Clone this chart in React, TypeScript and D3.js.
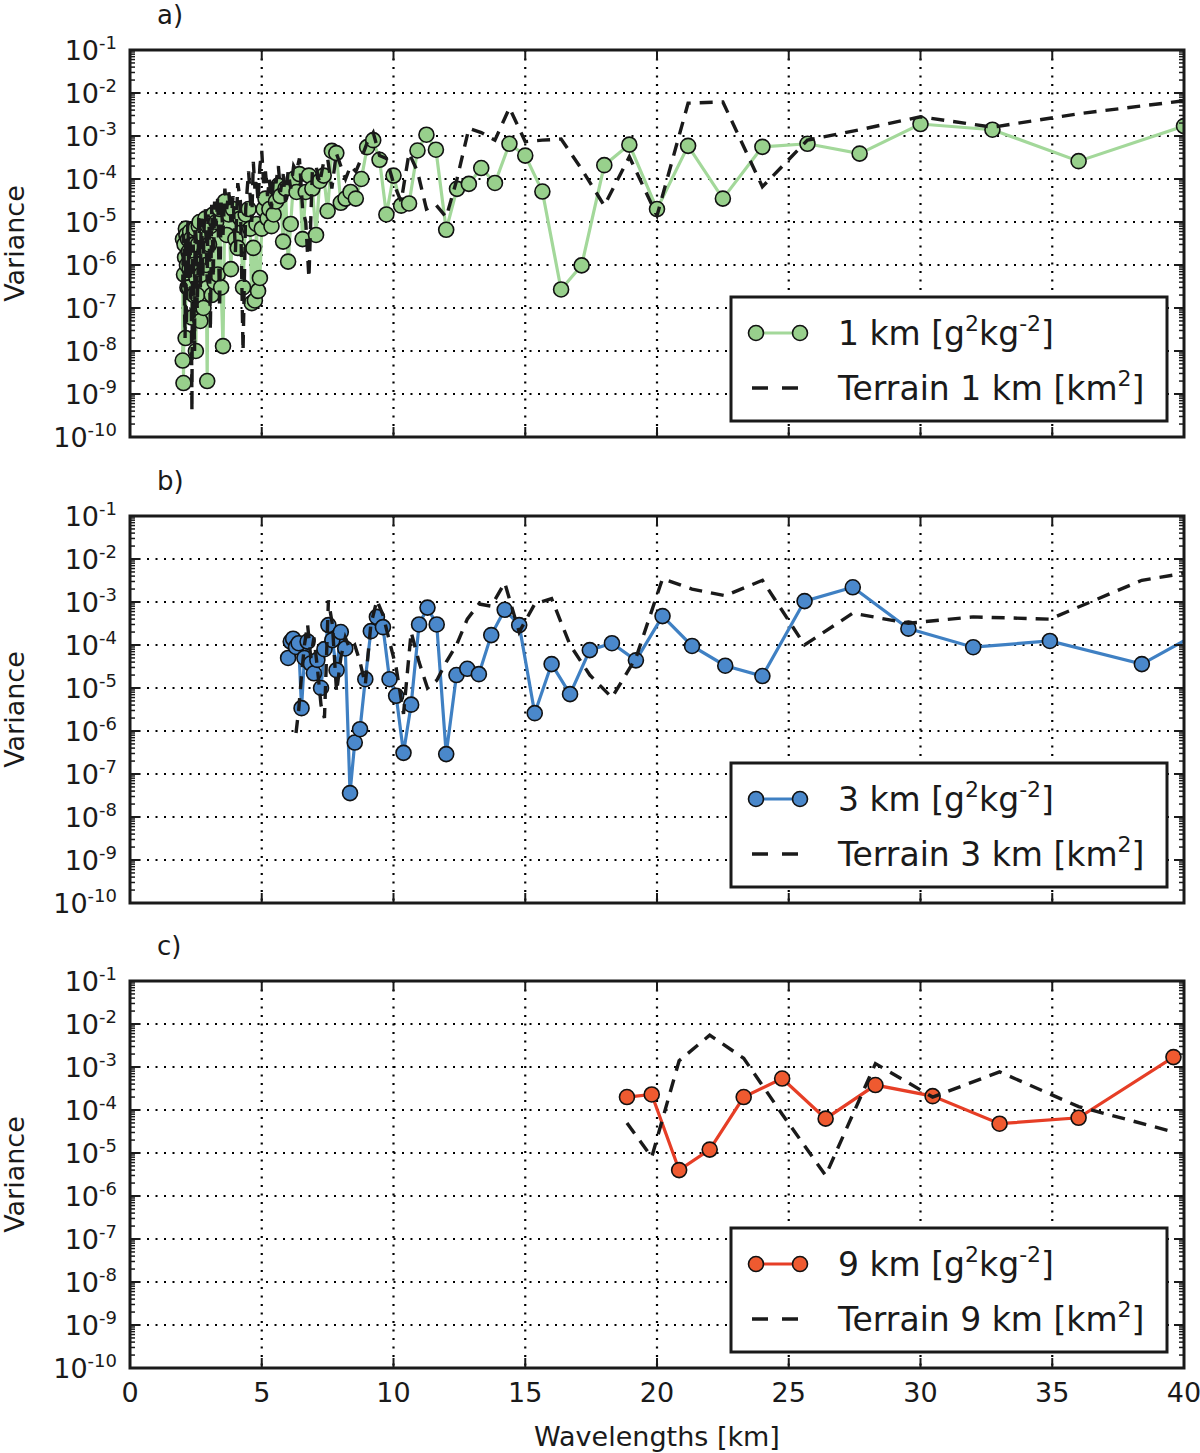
import React from 'react';
import * as d3 from 'd3';

// ---- data (wavelength in km, variance) ----

// panel a) 1 km
const wave1: number[] = [
  2.0, 2.01, 2.03, 2.05, 2.07, 2.09, 2.11, 2.12, 2.14, 2.16, 2.18, 2.2, 2.22, 2.24, 2.26, 2.28, 2.31, 2.33, 2.35, 2.37,
  2.4, 2.42, 2.45, 2.47, 2.5, 2.52, 2.55, 2.58, 2.61, 2.64, 2.67, 2.7, 2.73, 2.76, 2.79, 2.82, 2.86, 2.89, 2.93, 2.96, 3.0,
  3.05, 3.1, 3.16, 3.21, 3.27, 3.33, 3.4, 3.46, 3.53, 3.6, 3.67, 3.75, 3.83, 3.91, 4.0, 4.09, 4.19, 4.29, 4.39, 4.5,
  4.56, 4.62, 4.68, 4.74, 4.8, 4.86, 4.93, 5.0, 5.07, 5.14, 5.22, 5.29, 5.37, 5.45, 5.54, 5.63, 5.71, 5.81, 5.9, 6.0,
  6.1, 6.21, 6.32, 6.43, 6.55, 6.67, 6.79, 6.92, 7.06, 7.2, 7.35, 7.5, 7.66, 7.83, 8.0, 8.18, 8.37, 8.57, 8.78, 9.0,
  9.23, 9.47, 9.73, 10.0, 10.29, 10.59, 10.91, 11.25, 11.61, 12.0, 12.41, 12.86, 13.33, 13.85, 14.4, 15.0, 15.65, 16.36, 17.14, 18.0,
  18.95, 20.0, 21.18, 22.5, 24.0, 25.71, 27.69, 30.0, 32.73, 36.0, 40.0,
];
const var1: number[] = [
  6e-9, 4e-6, 1.8e-9, 6e-7, 3e-6, 1.5e-6, 2e-8, 7e-6, 5e-6, 1e-6, 3e-7, 4e-6, 2e-6, 3e-7, 8e-7, 6e-6, 4e-6, 1.5e-6, 6e-8, 3e-6,
  1e-6, 2e-7, 3e-6, 7e-6, 1e-8, 5e-7, 2e-7, 3e-6, 8e-6, 1e-5, 5e-8, 6e-7, 1.5e-6, 5e-6, 1e-7, 2e-6, 1.2e-5, 1e-6, 2e-9, 8e-6, 3e-6,
  8e-6, 2e-7, 1.5e-5, 4e-7, 1e-5, 6e-7, 2e-5, 3e-7, 1.3e-8, 3e-5, 5e-6, 1.5e-5, 8e-7, 2e-5, 4e-6, 2.5e-6, 1.2e-5, 3e-7, 1.5e-5, 2e-5,
  7e-6, 1.3e-7, 2.5e-6, 1.5e-7, 9e-6, 2.5e-7, 5e-7, 7e-6, 2e-5, 3.5e-5, 1.2e-5, 2e-5, 8e-6, 1.5e-5, 3e-5, 7e-5, 4e-5, 3.5e-6, 6e-5, 1.2e-6,
  9e-6, 1e-4, 5e-5, 1.3e-4, 4e-6, 5e-5, 1.2e-4, 6e-5, 5e-6, 9e-5, 1.2e-4, 1.8e-5, 4.5e-4, 4e-4, 2.8e-5, 3.5e-5, 5e-5, 3.5e-5, 1e-4, 5.5e-4,
  8e-4, 2.8e-4, 1.5e-5, 1.2e-4, 2.4e-5, 2.7e-5, 4.6e-4, 1.07e-3, 4.8e-4, 6.6e-6, 5.9e-5, 7.7e-5, 1.8e-4, 8.1e-5, 6.6e-4, 3.5e-4, 5.1e-5, 2.7e-7, 9.8e-7, 2.1e-4,
  6.3e-4, 2.0e-5, 5.9e-4, 3.5e-5, 5.6e-4, 6.6e-4, 3.9e-4, 1.9e-3, 1.4e-3, 2.6e-4, 1.7e-3,
];
const terr1: number[] = [
  3e-7, 1e-6, 5e-6, 3e-6, 1e-7, 2e-8, 2e-6, 5e-6, 4e-8, 2e-7, 6e-6, 1e-5, 1e-6, 5e-7, 3e-6, 4e-6, 2e-7, 8e-8, 4e-10, 2e-6,
  3e-6, 5e-7, 1e-8, 8e-6, 5e-6, 3e-6, 1e-7, 6e-7, 1.5e-5, 4e-6, 3e-7, 1.2e-5, 8e-6, 5e-7, 2e-6, 1e-5, 2e-5, 3e-6, 4e-7, 1.5e-5, 1e-5,
  3e-8, 2.5e-5, 5e-7, 3e-5, 8e-6, 4e-5, 1e-7, 3e-5, 5e-6, 6e-5, 2e-5, 5e-5, 1e-5, 4e-5, 2e-6, 8e-5, 3e-5, 1e-8, 2e-5, 1.5e-4,
  4e-5, 1e-5, 2.5e-4, 6e-5, 1e-4, 3e-5, 2e-4, 4.5e-4, 8e-5, 1.5e-4, 4e-5, 1e-4, 2e-5, 1.2e-4, 8e-5, 2e-4, 5e-5, 1.3e-4, 3e-5, 1.5e-4,
  6e-5, 2e-4, 1.5e-4, 3e-4, 2e-5, 1e-5, 5e-7, 1.5e-4, 2e-4, 8e-5, 2.5e-4, 3e-4, 6e-5, 4e-4, 2e-4, 1e-4, 2e-4, 1.5e-4, 3e-4, 7e-4,
  1.2e-3, 3.5e-4, 3e-4, 8e-5, 3e-5, 4e-4, 1.5e-4, 2e-5, 2.5e-5, 1.3e-5, 1e-4, 1.5e-3, 1.2e-3, 8e-4, 4.5e-3, 7.4e-4, 8e-4, 8.5e-4, 1.7e-4, 2.4e-5,
  3.3e-4, 1.4e-5, 5.8e-3, 6.2e-3, 6.6e-5, 8e-4, 1.4e-3, 2.8e-3, 1.6e-3, 3.3e-3, 6.6e-3,
];

// panel b) 3 km
const wave3: number[] = [
  6.0, 6.1, 6.19, 6.3, 6.4, 6.51, 6.62, 6.74, 6.86, 6.98, 7.11, 7.25, 7.38, 7.53, 7.68, 7.84, 8.0, 8.17, 8.35, 8.53,
  8.73, 8.93, 9.14, 9.37, 9.6, 9.85, 10.1, 10.38, 10.67, 10.97, 11.29, 11.64, 12.0, 12.39, 12.8, 13.24, 13.71, 14.22, 14.77, 15.36,
  16.0, 16.7, 17.45, 18.29, 19.2, 20.21, 21.33, 22.59, 24.0, 25.6, 27.43, 29.54, 32.0, 34.91, 38.4, 42.67,
];
const var3: number[] = [
  5e-5, 1.2e-4, 1.4e-4, 9e-5, 1.1e-4, 3.4e-6, 5e-5, 1.2e-4, 3.7e-5, 2.2e-5, 4.5e-5, 1e-5, 8e-5, 2.9e-4, 1.3e-4, 2.6e-5, 2e-4, 8.3e-5, 3.6e-8, 5.4e-7,
  1.1e-6, 1.6e-5, 2.1e-4, 4.5e-4, 2.6e-4, 1.6e-5, 6.6e-6, 3.1e-7, 4.1e-6, 3e-4, 7.4e-4, 3e-4, 2.9e-7, 2e-5, 2.8e-5, 2.1e-5, 1.7e-4, 6.6e-4, 2.9e-4, 2.6e-6,
  3.6e-5, 7.2e-6, 7.6e-5, 1.1e-4, 4.4e-5, 4.7e-4, 9.5e-5, 3.3e-5, 1.9e-5, 1.05e-3, 2.2e-3, 2.4e-4, 8.9e-5, 1.24e-4, 3.6e-5, 1e-3,
];
const terrWave3: number[] = [
  6.3, 6.4, 6.51, 6.62, 6.74, 6.86, 6.98, 7.11, 7.25, 7.38, 7.53, 7.68, 7.84, 8.0, 8.17, 8.35, 8.53,
  8.73, 8.93, 9.14, 9.37, 9.6, 9.85, 10.1, 10.38, 10.67, 10.97, 11.29, 11.64, 12.0, 12.39, 12.8, 13.24, 13.71, 14.22, 14.77, 15.36,
  16.0, 16.7, 17.45, 18.29, 19.2, 20.21, 21.33, 22.59, 24.0, 25.6, 27.43, 29.54, 32.0, 34.91, 38.4, 42.67,
];
const terr3: number[] = [
  9e-7, 3e-6, 2e-5, 1e-4, 3e-4, 5e-5, 1.5e-4, 3e-5, 4e-6, 2e-6, 1.1e-3, 3e-4, 8e-6, 5e-5, 1.5e-4, 8e-5, 1e-4,
  4e-5, 1.2e-5, 3e-4, 1.1e-3, 5e-4, 1.2e-4, 3e-5, 2.5e-6, 2e-4, 4e-5, 1e-5, 1.5e-5, 4e-5, 1e-4, 4e-4, 9e-4, 8e-4, 2.8e-3, 2e-4, 9e-4,
  1.2e-3, 1e-4, 2e-5, 6e-6, 5e-5, 3.5e-3, 2e-3, 1.4e-3, 3.2e-3, 1e-4, 5.5e-4, 3.2e-4, 4.5e-4, 4e-4, 3.2e-3, 8.7e-3,
];

// panel c) 9 km
const wave9: number[] = [18.86, 19.8, 20.84, 22.0, 23.29, 24.75, 26.4, 28.29, 30.46, 33.0, 36.0, 39.6];
const var9: number[] = [2.0e-4, 2.3e-4, 4.0e-6, 1.2e-5, 2.0e-4, 5.4e-4, 6.3e-5, 3.8e-4, 2.1e-4, 4.8e-5, 6.6e-5, 1.7e-3];
const terr9: number[] = [5e-5, 8e-6, 1.4e-3, 5.5e-3, 1.6e-3, 8e-5, 3e-6, 1.2e-3, 2e-4, 7.7e-4, 1.2e-4, 3.1e-5];

const xTicks = [0, 5, 10, 15, 20, 25, 30, 35, 40];
const exponents = [-10, -9, -8, -7, -6, -5, -4, -3, -2, -1];

const FONT = '"DejaVu Sans", sans-serif';
const LEFT = 130;
const RIGHT = 1184;
const PH = 387;
const INK = '#1a1a1a';

interface PanelProps {
  top: number;
  label: string;
  res: string;
  wave: number[];
  values: number[];
  terrWave: number[];
  terr: number[];
  lineColor: string;
  fillColor: string;
  showX: boolean;
}

function Panel(p: PanelProps) {
  const top = p.top;
  const bottom = top + PH;
  const x = d3.scaleLinear().domain([0, 40]).range([LEFT, RIGHT]);
  const y = d3.scaleLog().domain([1e-10, 1e-1]).range([bottom, top]);
  const line = d3
    .line<[number, number]>()
    .x((d) => x(d[0]))
    .y((d) => y(d[1]));
  const pts = p.wave.map((w, i) => [w, p.values[i]] as [number, number]);
  const tpts = p.terrWave.map((w, i) => [w, p.terr[i]] as [number, number]);
  const clipId = 'clip-' + p.label;

  const minor: number[] = [];
  for (let e = -10; e < -1; e++) {
    for (let m = 2; m < 10; m++) minor.push(m * Math.pow(10, e));
  }

  const lgTop = top + 247;
  const row1 = lgTop + 36;
  const row2 = lgTop + 91;

  return (
    <g>
      <defs>
        <clipPath id={clipId}>
          <rect x={LEFT} y={top} width={RIGHT - LEFT} height={PH} />
        </clipPath>
      </defs>
      <text x={157} y={top - 26} fontSize={26} fill={INK}>
        {p.label})
      </text>

      {/* grid */}
      {xTicks.slice(1, -1).map((t) => (
        <line key={'gx' + t} x1={x(t)} x2={x(t)} y1={top} y2={bottom}
          stroke="#000" strokeWidth={2.2} strokeDasharray="2,6.5" />
      ))}
      {exponents.slice(1, -1).map((e) => (
        <line key={'gy' + e} x1={LEFT} x2={RIGHT} y1={y(Math.pow(10, e))} y2={y(Math.pow(10, e))}
          stroke="#000" strokeWidth={2.2} strokeDasharray="2,6.5" />
      ))}

      {/* data */}
      <g clipPath={`url(#${clipId})`}>
        <path d={line(pts) || ''} stroke={p.lineColor} strokeWidth={3.2} fill="none" />
        {pts.map((d, i) => (
          <circle key={i} cx={x(d[0])} cy={y(d[1])} r={7.5} fill={p.fillColor} stroke="#111" strokeWidth={1.6} />
        ))}
        <path d={line(tpts) || ''} stroke={INK} strokeWidth={3.4} strokeDasharray="13,9" fill="none" />
      </g>

      {/* ticks */}
      {minor.map((v, i) => (
        <g key={'mn' + i}>
          <line x1={LEFT} x2={LEFT + 5} y1={y(v)} y2={y(v)} stroke={INK} strokeWidth={1.5} />
          <line x1={RIGHT - 5} x2={RIGHT} y1={y(v)} y2={y(v)} stroke={INK} strokeWidth={1.5} />
        </g>
      ))}
      {exponents.map((e) => (
        <g key={'mj' + e}>
          <line x1={LEFT} x2={LEFT + 10} y1={y(Math.pow(10, e))} y2={y(Math.pow(10, e))} stroke={INK} strokeWidth={2} />
          <line x1={RIGHT - 10} x2={RIGHT} y1={y(Math.pow(10, e))} y2={y(Math.pow(10, e))} stroke={INK} strokeWidth={2} />
        </g>
      ))}
      {xTicks.map((t) => (
        <g key={'xt' + t}>
          <line x1={x(t)} x2={x(t)} y1={bottom} y2={bottom - 10} stroke={INK} strokeWidth={2} />
          <line x1={x(t)} x2={x(t)} y1={top} y2={top + 10} stroke={INK} strokeWidth={2} />
        </g>
      ))}

      <rect x={LEFT} y={top} width={RIGHT - LEFT} height={PH} fill="none" stroke={INK} strokeWidth={3} />

      {/* y tick labels */}
      {exponents.map((e) => (
        <text key={'yl' + e} x={117} y={y(Math.pow(10, e)) + 10} textAnchor="end" fontSize={27} fill={INK}>
          10
          <tspan dy={-11} fontSize={18}>{String(e)}</tspan>
        </text>
      ))}

      {p.showX &&
        xTicks.map((t) => (
          <text key={'xl' + t} x={x(t)} y={bottom + 34} textAnchor="middle" fontSize={27} fill={INK}>
            {t}
          </text>
        ))}

      <text transform={`translate(24,${top + PH / 2}) rotate(-90)`} textAnchor="middle" fontSize={27} fill={INK}>
        Variance
      </text>

      {/* legend */}
      <rect x={731} y={lgTop} width={436} height={124} fill="#fff" stroke={INK} strokeWidth={3} />
      <line x1={756} x2={800} y1={row1} y2={row1} stroke={p.lineColor} strokeWidth={3.2} />
      <circle cx={756} cy={row1} r={7.5} fill={p.fillColor} stroke="#111" strokeWidth={1.6} />
      <circle cx={800} cy={row1} r={7.5} fill={p.fillColor} stroke="#111" strokeWidth={1.6} />
      <line x1={752} x2={798} y1={row2} y2={row2} stroke={INK} strokeWidth={3.4} strokeDasharray="16,14" />
      <text x={838} y={row1 + 12} fontSize={33} fill={INK}>
        {p.res} km [g
        <tspan dy={-14} fontSize={22}>2</tspan>
        <tspan dy={14}>kg</tspan>
        <tspan dy={-14} fontSize={22}>-2</tspan>
        <tspan dy={14}>]</tspan>
      </text>
      <text x={838} y={row2 + 12} fontSize={33} fill={INK}>
        Terrain {p.res} km [km
        <tspan dy={-14} fontSize={22}>2</tspan>
        <tspan dy={14}>]</tspan>
      </text>
    </g>
  );
}

export default function App() {
  return (
    <div style={{ position: 'absolute', left: 0, top: 0 }}>
      <svg width={1200} height={1453} style={{ display: 'block', background: '#fff', fontFamily: FONT }}>
        <rect width={1200} height={1453} fill="#fff" />
        <Panel top={50} label="a" res="1" wave={wave1} values={var1} terrWave={wave1} terr={terr1}
          lineColor="#a3d89a" fillColor="#98d08c" showX={false} />
        <Panel top={516} label="b" res="3" wave={wave3} values={var3} terrWave={terrWave3} terr={terr3}
          lineColor="#3f80c3" fillColor="#4a88cb" showX={false} />
        <Panel top={981} label="c" res="9" wave={wave9} values={var9} terrWave={wave9} terr={terr9}
          lineColor="#e63e26" fillColor="#ef5a30" showX={true} />
        <text x={657} y={1446} textAnchor="middle" fontSize={27} fill={INK}>
          Wavelengths [km]
        </text>
      </svg>
    </div>
  );
}
